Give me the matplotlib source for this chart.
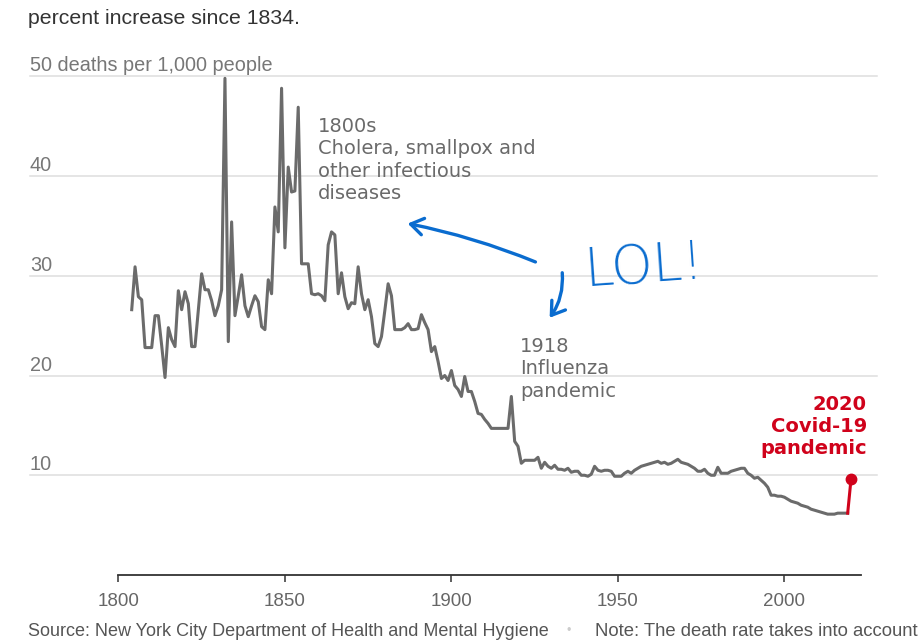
import numpy as np
import matplotlib
matplotlib.use("Agg")
import matplotlib.pyplot as plt
from matplotlib import transforms
from matplotlib.patches import FancyArrowPatch

# NYC deaths per 1,000 people, yearly from 1804 to 2019
rate = [
    26.6, 30.9, 27.9, 27.6, 22.8, 22.8,
    22.8, 26.0, 26.0, 23.0, 19.8, 24.8, 23.6, 22.9, 28.5, 26.6,
    28.4, 27.2, 22.9, 22.9, 26.5, 30.2, 28.6, 28.6, 27.5, 26.0,
    27.0, 28.6, 49.8, 23.4, 35.4, 26.0, 28.0, 30.1, 27.0, 25.9,
    27.0, 28.0, 27.4, 24.9, 24.6, 29.6, 28.2, 36.9, 34.4, 48.8,
    32.8, 40.9, 38.4, 38.5, 46.9, 31.2, 31.2, 31.2, 28.2, 28.1,
    28.2, 28.0, 27.5, 33.1, 34.4, 34.1, 28.2, 30.3, 27.9, 26.7,
    27.3, 27.2, 30.9, 28.2, 26.6, 27.6, 25.9, 23.2, 22.9, 23.9,
    26.5, 29.2, 28.0, 24.6, 24.6, 24.6, 24.8, 25.2, 24.6, 24.6,
    24.7, 26.1, 25.3, 24.6, 22.4, 22.9, 21.4, 19.7, 20.0, 19.5,
    20.5, 19.0, 18.6, 17.9, 19.9, 18.4, 18.4, 17.4, 16.2, 16.1,
    15.6, 15.2, 14.7, 14.7, 14.7, 14.7, 14.7, 14.7, 17.9, 13.4,
    12.9, 11.2, 11.5, 11.5, 11.5, 11.5, 11.8, 10.7, 11.3, 10.9,
    10.7, 11.0, 10.6, 10.6, 10.5, 10.7, 10.3, 10.4, 10.4, 10.0,
    10.0, 9.9, 10.1, 10.9, 10.5, 10.4, 10.5, 10.5, 10.4, 9.9,
    9.9, 9.9, 10.2, 10.4, 10.2, 10.5, 10.7, 10.9, 11.0, 11.1,
    11.2, 11.3, 11.4, 11.2, 11.3, 11.1, 11.2, 11.4, 11.6, 11.3,
    11.2, 11.1, 10.9, 10.7, 10.4, 10.4, 10.6, 10.2, 10.0, 10.0,
    10.8, 10.2, 10.2, 10.2, 10.4, 10.5, 10.6, 10.7, 10.7, 10.2,
    10.0, 9.7, 9.8, 9.5, 9.2, 8.8, 8.0, 8.0, 7.9, 7.9,
    7.8, 7.6, 7.4, 7.3, 7.2, 7.0, 6.9, 6.8, 6.6, 6.5,
    6.4, 6.3, 6.2, 6.1, 6.1, 6.1, 6.2, 6.2, 6.2, 6.2,
]
first_year = 1804
covid_year = 2020
covid_rate = 9.6

grid_values = [10, 20, 30, 40, 50]
grid_labels = ["10", "20", "30", "40", "50 deaths per 1,000 people"]
x_ticks = [1800, 1850, 1900, 1950, 2000]

years = np.arange(first_year, first_year + len(rate))

W, H = 923, 640
fig = plt.figure(figsize=(W / 100, H / 100), dpi=100)
ax = fig.add_axes([118.4 / W, 65 / H, 742.6 / W, 498.7 / H])
ax.set_xlim(1800, 2023)
ax.set_ylim(0, 50)

gray_txt = "#777777"
line_col = "#6b6b6b"
red = "#d0021b"
blue = "#0a6ccf"

# grid lines run past the plot on both sides
for v in grid_values:
    ax.axhline(v, xmin=(30 - 118.4) / 742.6, xmax=(877 - 118.4) / 742.6,
               color="#dedede", lw=1.1, clip_on=False, zorder=0)

lab_tr = transforms.blended_transform_factory(fig.transFigure, ax.transData)
for v, lab in zip(grid_values, grid_labels):
    ax.text(30 / W, v + 0.5, lab, transform=lab_tr, ha="left", va="baseline",
            fontsize=14.3, color=gray_txt, family="Liberation Sans")

ax.plot(years, rate, color=line_col, lw=2.2, solid_joinstyle="round", zorder=3)
ax.plot([years[-1], covid_year], [rate[-1], covid_rate], color=red, lw=2.2, zorder=4)
ax.plot(covid_year, covid_rate, "o", color=red, ms=7.5, zorder=5)

for s in ["top", "right", "left"]:
    ax.spines[s].set_visible(False)
ax.spines["bottom"].set_color("#333333")
ax.spines["bottom"].set_linewidth(1.3)
ax.set_yticks([])
ax.set_xticks(x_ticks)
ax.tick_params(axis="x", length=5, width=1.1, color="#333333", pad=8,
               labelsize=13.5, labelcolor="#666666")
for t in ax.get_xticklabels():
    t.set_family("Liberation Sans")

# annotations
ann = dict(fontsize=14, color="#6a6a6a", family="DejaVu Sans",
           ha="left", va="top", linespacing=1.22)
fig.text(318 / W, 1 - 117 / H, "1800s\nCholera, smallpox and\nother infectious\ndiseases", **ann)
fig.text(520 / W, 1 - 337 / H, "1918\nInfluenza\npandemic", **ann)
fig.text(867 / W, 1 - 395 / H, "2020\nCovid-19\npandemic", fontsize=14,
         color=red, family="DejaVu Sans", weight="bold", ha="right", va="top",
         linespacing=1.2)

# hand-drawn scribbles
arr1 = FancyArrowPatch((538, H - 263), (405, H - 223), transform=None,
                       connectionstyle="arc3,rad=0.05",
                       arrowstyle="->,head_length=9,head_width=6",
                       color=blue, lw=2.4, zorder=6)
arr2 = FancyArrowPatch((562, H - 270), (548, H - 320), transform=None,
                       connectionstyle="arc3,rad=-0.2",
                       arrowstyle="->,head_length=9,head_width=6",
                       color=blue, lw=2.4, zorder=6)
fig.add_artist(arr1)
fig.add_artist(arr2)
fig.text(583 / W, 1 - 286 / H, "LOL!", fontsize=38, color=blue,
         family="DejaVu Sans", weight="light", ha="left", va="baseline",
         rotation=4)

# header and footer text
fig.text(28 / W, 1 - 18 / H, "percent increase since 1834.", fontsize=15.3,
         color="#333333", family="Liberation Sans", ha="left", va="center")
fig.text(28 / W, 1 - 631 / H, "Source: New York City Department of Health and Mental Hygiene",
         fontsize=13, color="#555555", family="Liberation Sans", ha="left", va="center")
fig.text(569 / W, 1 - 631 / H, "\u2022", fontsize=9, color="#cccccc",
         family="Liberation Sans", ha="center", va="center")
fig.text(918 / W, 1 - 631 / H, "Note: The death rate takes into account",
         fontsize=13.3, color="#555555", family="Liberation Sans", ha="right", va="center")

fig.savefig("out.png", dpi=100)
